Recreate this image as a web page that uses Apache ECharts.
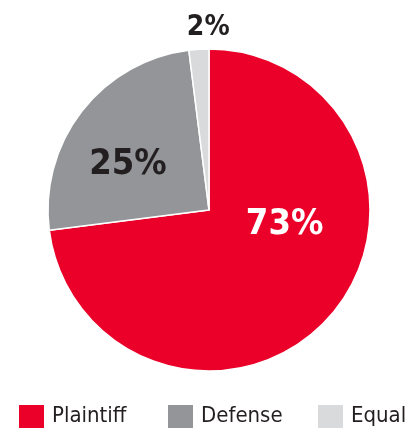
<!DOCTYPE html>
<html><head><meta charset="utf-8">
<script src="https://cdn.jsdelivr.net/npm/echarts@6/dist/echarts.min.js"></script>
<style>html,body{margin:0;padding:0;background:#fff}#c{width:406px;height:429px}</style>
</head><body><div id="c"></div>
<script>
const categories = ['Plaintiff', 'Defense', 'Equal'];
const values = [73, 25, 2];
const colors = ['#EA0029', '#939598', '#D9DADC'];
const labelColors = ['#ffffff', '#231F20', '#231F20'];
const FONT = '"Liberation Sans Narrow", "DejaVu Sans Condensed", sans-serif';

const chart = echarts.init(document.getElementById('c'), null, {renderer: 'canvas'});
const legendLefts = [17, 166, 316];
const option = {
  animation: false,
  legend: categories.map((name, i) => ({
    data: [name],
    left: legendLefts[i],
    top: 403,
    itemWidth: 27,
    itemHeight: 25,
    itemGap: 0,
    icon: 'rect',
    padding: 0,
    textStyle: {fontFamily: FONT, fontSize: 22, color: '#231F20', padding: [0, 0, 0, 2]},
    selectedMode: false
  })),
  series: [{
    type: 'pie',
    center: [209, 210],
    radius: [0, 161],
    startAngle: 90,
    clockwise: true,
    silent: true,
    itemStyle: {borderColor: '#fff', borderWidth: 1.5},
    label: {
      position: 'inside',
      formatter: '{c}%',
      fontFamily: FONT,
      fontWeight: 'bold',
      fontSize: 36
    },
    labelLine: {show: false},
    labelLayout: function (p) {
      if (p.dataIndex === 0) return {dx: 13, dy: -41};
      if (p.dataIndex === 1) return {dx: -15, dy: 6};
      return {dx: 31, dy: -18};
    },
    data: categories.map((name, i) => ({
      name: name,
      value: values[i],
      itemStyle: {color: colors[i]},
      label: i === 2
        ? {position: 'outside', color: labelColors[i], fontSize: 28, distanceToLabelLine: 0}
        : {color: labelColors[i]},
      labelLine: {show: false, length: 4, length2: 0}
    }))
  }]
};
chart.setOption(option);
</script></body></html>
